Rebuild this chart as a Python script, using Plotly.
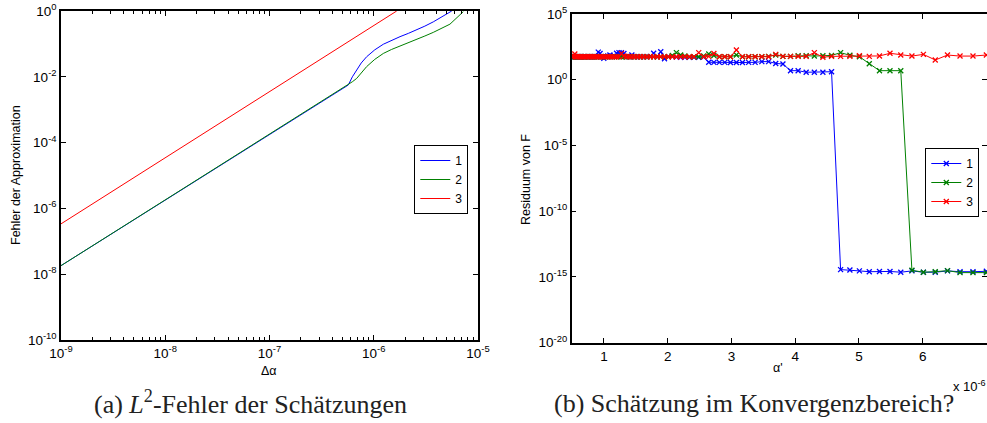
import numpy as np
import plotly.graph_objects as go

W, H = 987, 423

# ---------------- Left panel data (log10 values) ----------------
log10_dalpha_1 = [-9.0, -6.244, -6.205, -6.164, -6.12, -6.068, -5.99, -5.908, -5.83, -5.748, -5.668, -5.588, -5.51, -5.429, -5.34, -5.252]
log10_err_1 = [-7.74, -2.25, -2.00, -1.79, -1.58, -1.39, -1.18, -1.01, -0.89, -0.78, -0.68, -0.58, -0.46, -0.33, -0.17, 0.0]
log10_dalpha_2 = [-9.0, -6.244, -6.205, -6.164, -6.12, -6.068, -5.99, -5.908, -5.83, -5.748, -5.668, -5.588, -5.51, -5.429, -5.35, -5.269, -5.141]
log10_err_2 = [-7.74, -2.25, -2.15, -2.05, -1.87, -1.69, -1.47, -1.29, -1.17, -1.07, -0.96, -0.86, -0.76, -0.65, -0.53, -0.40, -0.02]
log10_dalpha_3 = [-9.0, -5.78]
log10_err_3 = [-6.47, 0.0]
left_names = ["1", "2", "3"]

left_xticks = [1e-9, 1e-8, 1e-7, 1e-6, 1e-5]
left_xticklabels = ["10<sup>-9</sup>", "10<sup>-8</sup>", "10<sup>-7</sup>", "10<sup>-6</sup>", "10<sup>-5</sup>"]
left_yticks = [1e-10, 1e-8, 1e-6, 1e-4, 1e-2, 1e0]
left_yticklabels = ["10<sup>-10</sup>", "10<sup>-8</sup>", "10<sup>-6</sup>", "10<sup>-4</sup>", "10<sup>-2</sup>", "10<sup>0</sup>"]

# ---------------- Right panel data (alpha' in units of 1e-6) ----------------
alpha_prime = [
    0.495, 0.511, 0.526, 0.543, 0.560, 0.578, 0.595, 0.614, 0.633, 0.652,
    0.672, 0.693, 0.714, 0.736, 0.759, 0.783, 0.807, 0.832, 0.857, 0.884,
    0.911, 0.939, 0.968, 0.998, 1.029, 1.061, 1.094, 1.127, 1.162, 1.198,
    1.236, 1.274, 1.313, 1.353, 1.395, 1.438, 1.483, 1.529, 1.576, 1.624,
    1.675, 1.727, 1.780, 1.835, 1.891, 1.950, 2.010, 2.072, 2.137, 2.203,
    2.270, 2.340, 2.413, 2.487, 2.564, 2.644, 2.725, 2.810, 2.896, 2.985,
    3.078, 3.173, 3.271, 3.372, 3.477, 3.584, 3.695, 3.808, 3.927, 4.047,
    4.173, 4.301, 4.435, 4.571, 4.713, 4.859, 5.008, 5.163, 5.323, 5.488,
    5.657, 5.832, 6.012, 6.198, 6.390, 6.587, 6.790, 7.000,
]
log10_res_1 = [
    1.75, 1.75, 1.75, 1.75, 1.75, 1.75, 1.75, 1.75, 1.75, 1.75,
    1.75, 1.75, 1.75, 1.75, 1.75, 1.75, 1.75, 1.75, 1.75, 1.75,
    2.10, 2.00, 1.75, 1.63, 1.75, 1.80, 1.88, 1.75, 1.80, 2.01,
    2.06, 2.06, 2.00, 1.75, 1.75, 1.88, 1.75, 1.75, 1.75, 1.75,
    1.75, 1.78, 2.01, 1.75, 2.13, 1.60, 1.75, 1.78, 1.72, 1.70,
    1.70, 1.70, 1.70, 1.70, 1.72, 1.33, 1.32, 1.32, 1.32, 1.31,
    1.31, 1.31, 1.32, 1.32, 1.38, 1.38, 1.24, 1.20, 0.69, 0.69,
    0.57, 0.57, 0.57, 0.61, -14.44, -14.47, -14.54, -14.60, -14.58, -14.58,
    -14.64, -14.54, -14.64, -14.64, -14.54, -14.60, -14.60, -14.57,
]
log10_res_2 = [
    1.75, 1.75, 1.75, 1.75, 1.75, 1.75, 1.75, 1.75, 1.75, 1.75,
    1.75, 1.75, 1.75, 1.75, 1.75, 1.75, 1.75, 1.75, 1.75, 1.75,
    1.75, 1.75, 1.75, 1.75, 1.75, 1.75, 1.75, 1.75, 1.75, 1.75,
    1.75, 1.75, 1.75, 1.75, 1.75, 1.75, 1.75, 1.75, 1.75, 1.75,
    1.75, 1.75, 1.75, 1.75, 1.75, 1.75, 1.75, 1.85, 2.06, 1.88,
    1.80, 1.75, 1.75, 1.75, 1.80, 1.96, 1.85, 1.75, 1.75, 1.75,
    1.88, 1.75, 1.75, 1.75, 1.75, 1.78, 1.88, 1.78, 1.78, 1.83,
    1.83, 1.80, 1.83, 1.85, 2.06, 1.86, 1.75, 1.22, 0.69, 0.69,
    0.69, -14.49, -14.64, -14.60, -14.52, -14.67, -14.67, -14.67,
]
log10_res_3 = [
    1.75, 1.75, 1.80, 1.96, 1.75, 1.75, 1.75, 1.75, 1.75, 1.75,
    1.75, 1.75, 1.75, 1.75, 1.75, 1.75, 1.75, 1.75, 1.75, 1.75,
    1.75, 1.75, 1.75, 1.75, 1.75, 1.75, 1.75, 1.75, 1.75, 1.75,
    1.75, 2.00, 1.80, 1.75, 1.75, 1.75, 1.75, 1.75, 1.75, 1.75,
    1.75, 1.75, 1.75, 1.75, 1.75, 1.75, 1.75, 1.75, 1.75, 1.75,
    1.75, 1.75, 1.75, 2.06, 1.75, 1.78, 2.00, 1.75, 1.75, 1.75,
    2.26, 1.75, 1.75, 1.75, 1.75, 1.75, 1.93, 1.78, 1.78, 1.78,
    1.78, 2.06, 1.71, 1.78, 1.78, 1.78, 1.83, 1.78, 1.81, 2.01,
    1.88, 1.80, 1.93, 1.50, 1.88, 1.80, 1.80, 1.88,
]
right_names = ["1", "2", "3"]
right_xticks = [1, 2, 3, 4, 5, 6, 7]
right_yticks = [1e-20, 1e-15, 1e-10, 1e-5, 1e0, 1e5]
right_yticklabels = ["10<sup>-20</sup>", "10<sup>-15</sup>", "10<sup>-10</sup>", "10<sup>-5</sup>", "10<sup>0</sup>", "10<sup>5</sup>"]

colors = ["#0000ff", "#008000", "#ff0000"]
SANS = "Liberation Sans, Arial, sans-serif"
SERIF = "Liberation Serif, Times New Roman, serif"


def pxx(x):
    return x / W


def pxy(y):
    return 1 - y / H


fig = go.Figure()

left_x = [log10_dalpha_1, log10_dalpha_2, log10_dalpha_3]
left_y = [log10_err_1, log10_err_2, log10_err_3]
for name, lx, ly, c in zip(left_names, left_x, left_y, colors):
    fig.add_trace(go.Scatter(
        x=np.power(10.0, lx), y=np.power(10.0, ly), mode="lines", name=name,
        line=dict(color=c, width=1),
        xaxis="x", yaxis="y", legend="legend",
    ))

right_y = [log10_res_1, log10_res_2, log10_res_3]
for name, ly, c in zip(right_names, right_y, colors):
    fig.add_trace(go.Scatter(
        x=alpha_prime, y=np.power(10.0, ly), mode="lines+markers", name=name,
        line=dict(color=c, width=1),
        marker=dict(symbol="x-thin", size=5, line=dict(color=c, width=1.3)),
        xaxis="x2", yaxis="y2", legend="legend2",
    ))

# minor tick positions for left x axis (2..9 within each decade)
minor_vals = []
for e in range(-9, -5):
    for m in range(2, 10):
        minor_vals.append(m * 10.0 ** e)

axis_common = dict(
    showline=True, linecolor="black", linewidth=1.5, mirror="ticks",
    ticks="inside", ticklen=5, tickcolor="black", tickwidth=1,
    showgrid=False, zeroline=False, automargin=False,
    tickfont=dict(family=SANS, size=13.5, color="black"),
)

fig.update_layout(
    width=W, height=H,
    margin=dict(l=0, r=0, t=0, b=0, pad=0, autoexpand=False),
    paper_bgcolor="white", plot_bgcolor="white",
    showlegend=True,
    xaxis=dict(
        type="log", domain=[pxx(61), pxx(478)], range=[-9, -5], anchor="y",
        tickmode="array", tickvals=left_xticks, ticktext=left_xticklabels,
        minor=dict(tickmode="array", tickvals=minor_vals, ticks="inside",
                   ticklen=3, tickcolor="black", showgrid=False),
        **axis_common,
    ),
    yaxis=dict(
        type="log", domain=[pxy(340), pxy(11)], range=[-10, 0], anchor="x",
        tickmode="array", tickvals=left_yticks, ticktext=left_yticklabels,
        **axis_common,
    ),
    xaxis2=dict(
        domain=[pxx(571.7), 1.0], range=[0.494, 7.01], anchor="y2",
        tickmode="array", tickvals=right_xticks,
        **axis_common,
    ),
    yaxis2=dict(
        type="log", domain=[pxy(342.7), pxy(14)], range=[-20, 5], anchor="x2",
        tickmode="array", tickvals=right_yticks, ticktext=right_yticklabels,
        **axis_common,
    ),
    legend=dict(
        x=pxx(468.3), xanchor="right", y=pxy(145), yanchor="top",
        bordercolor="black", borderwidth=1, bgcolor="white",
        font=dict(family=SANS, size=12, color="black"),
        itemwidth=30, tracegroupgap=0,
    ),
    legend2=dict(
        x=pxx(979.3), xanchor="right", y=pxy(148), yanchor="top",
        bordercolor="black", borderwidth=1, bgcolor="white",
        font=dict(family=SANS, size=12, color="black"),
        itemwidth=30, tracegroupgap=0,
    ),
)

annotations = [
    dict(text="Fehler der Approximation", x=pxx(16), y=pxy(175), textangle=-90,
         font=dict(family=SANS, size=12.5, color="black")),
    dict(text="Δα", x=pxx(269), y=pxy(371), font=dict(family=SANS, size=12.5, color="black")),
    dict(text="Residuum von F", x=pxx(526), y=pxy(180), textangle=-90,
         font=dict(family=SANS, size=12.5, color="black")),
    dict(text="α'", x=pxx(778), y=pxy(368), font=dict(family=SANS, size=12.5, color="black")),
    dict(text="x 10<sup>-6</sup>", x=pxx(951), y=pxy(386), xanchor="left",
         font=dict(family=SANS, size=13, color="black")),
    dict(text="(a) <i>L</i><sup>2</sup>-Fehler der Schätzungen", x=pxx(250), y=pxy(402),
         font=dict(family=SERIF, size=26, color="#222222")),
    dict(text="(b) Schätzung im Konvergenzbereich?", x=pxx(754), y=pxy(403),
         font=dict(family=SERIF, size=26, color="#222222")),
]
for a in annotations:
    a.update(xref="paper", yref="paper", showarrow=False, xanchor=a.get("xanchor", "center"),
             yanchor="middle")
fig.update_layout(annotations=annotations)

fig.write_html(
    "out.html",
    config={"displayModeBar": False},
    post_script="document.body.style.margin='0';document.body.style.overflow='hidden';",
)
